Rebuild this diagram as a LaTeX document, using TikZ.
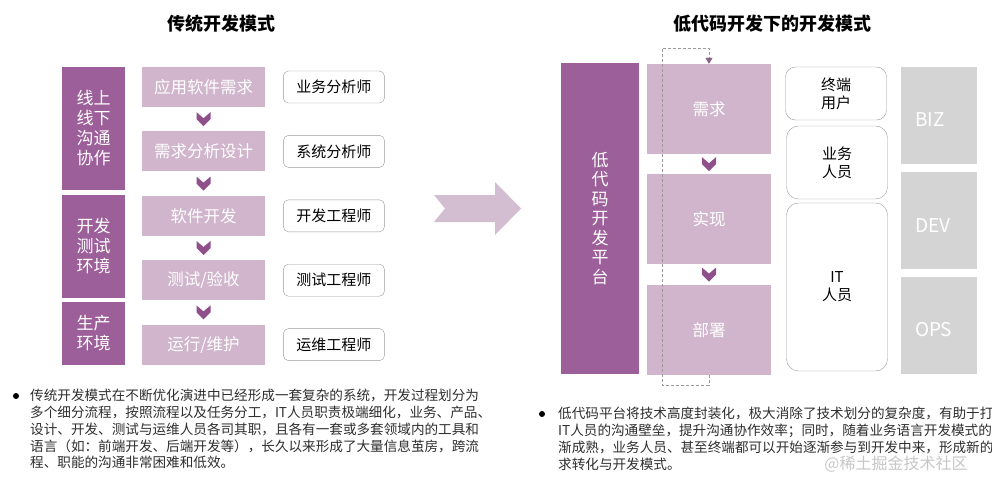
\documentclass[tikz,border=0pt]{standalone}
\usepackage{fontspec}
\setmainfont{Noto Sans CJK SC}
\usetikzlibrary{arrows.meta, positioning, calc}

\definecolor{darkmauve}{HTML}{9C5F9A}
\definecolor{lightmauve}{HTML}{D0B5CC}
\definecolor{arrowmauve}{HTML}{D3BED1}
\definecolor{chevcol}{HTML}{8E4F8B}
\definecolor{greybox}{HTML}{D4D4D4}
\definecolor{linegrey}{HTML}{9A9A9A}
\definecolor{txt}{HTML}{2E2E2E}

\begin{document}
\begin{tikzpicture}[
  x=1pt, y=-1pt,
  node distance=24pt,
  title/.style={font=\fontsize{18pt}{20pt}\selectfont\bfseries},
  band/.style={rectangle, fill=darkmauve, text=white, align=center, inner sep=0pt, font=\fontsize{17pt}{20pt}\selectfont},
  stage/.style={rectangle, fill=lightmauve, text=white, minimum width=123pt, minimum height=40pt, inner sep=0pt, font=\fontsize{16.5pt}{19pt}\selectfont},
  phase/.style={stage, minimum width=124pt, minimum height=90pt},
  role/.style={rectangle, rounded corners=5pt, draw=linegrey, fill=white, minimum width=101pt, minimum height=32pt, inner sep=0pt, font=\fontsize{15pt}{18pt}\selectfont},
  people/.style={rectangle, rounded corners=12pt, draw=linegrey, fill=white, minimum width=101pt, align=center, inner sep=0pt, font=\fontsize{15pt}{18pt}\selectfont},
  opsbox/.style={rectangle, fill=greybox, text=white, minimum height=97pt, inner xsep=14pt, text width=48pt, align=left, text height=23pt, text depth=0pt, font=\fontsize{19pt}{22pt}\selectfont},
  chev/.style={fill=chevcol},
  loopline/.style={draw=linegrey, thin, dash pattern=on 3pt off 2pt, -{Triangle[width=7pt, length=6pt, color=chevcol!60!gray]}},
  dot/.style={circle, fill=black, inner sep=0pt, minimum size=6pt},
  note/.style={anchor=north west, align=left, inner sep=0pt, text=txt, font=\fontsize{13.6pt}{16.8pt}\selectfont}
]
\useasboundingbox (0,0) rectangle (992,484);
\fill[white] (0,0) rectangle (992,484);

% traditional mode
\node[title] (trad) at (221,24) {传统开发模式};
\node[band, minimum width=63pt, minimum height=123pt] (online) at (93.5,128.5) {线上\\线下\\沟通\\协作};
\node[band, minimum width=63pt, minimum height=103pt] (devtest) at (93.5,246.5) {开发\\测试\\环境};
\node[band, minimum width=63pt, minimum height=63pt] (prodenv) at (93.5,333.5) {生产\\环境};

\node[stage] (apps) at (203.5,87) {应用软件需求};
\node[stage, below=of apps] (design) {需求分析设计};
\node[stage, below=of design] (coding) {软件开发};
\node[stage, below=of coding] (testing) {测试/验收};
\node[stage, below=of testing] (running) {运行/维护};

\node[role, right=18pt of apps] (ba) {业务分析师};
\node[role, right=18pt of design] (sa) {系统分析师};
\node[role, right=18pt of coding] (deveng) {开发工程师};
\node[role, right=18pt of testing] (testeng) {测试工程师};
\node[role, right=18pt of running] (opseng) {运维工程师};

% big arrow between the two
\fill[arrowmauve] (434,195) -- (495,195) -- (495,182) -- (521,208.5) -- (495,235) -- (495,222) -- (434,222) -- (445,208.5) -- cycle;

% low-code mode
\node[title] (lowcode) at (772,24) {低代码开发下的开发模式};
\node[band, minimum width=78pt, minimum height=311pt, font=\fontsize{17pt}{19.5pt}\selectfont] (platform) at (600,218.5) {低\\代\\码\\开\\发\\平\\台};

\node[phase] (need) at (709,109) {需求};
\node[phase, below=20pt of need] (impl) {实现};
\node[phase, below=20pt of impl] (deploy) {部署};

\node[people, minimum height=53pt, rounded corners=10pt] (enduser) at (836,93.5) {终端\\用户};
\node[people, minimum height=73pt] (bizuser) at (837,162.5) {业务\\人员};
\node[people, minimum height=168pt] (itstaff) at (837,287) {IT\\人员};

\node[opsbox] (biz) at (939,115.5) {BIZ};
\node[opsbox, below=8pt of biz] (devops) {DEV};
\node[opsbox, below=7pt of devops] (opsops) {OPS};

\foreach \a/\b in {apps/design, design/coding, coding/testing, testing/running, need/impl, impl/deploy}
  \fill[chev] ($(\a.south)!0.5!(\b.north)$) ++(-7,-7) -- ++(7,6) -- ++(7,-6) -- ++(0,7) -- ++(-7,7) -- ++(-7,-7) -- cycle;

\coordinate (loopb) at (662,385);
\coordinate (loopt) at (662,48);
\draw[loopline] (deploy.south) |- (loopb) -- (loopt) -| (need.north);

% notes
\node[dot] (dot1) at (16,396) {};
\node[note] (note1) at (30,389) {传统开发模式在不断优化演进中已经形成一套复杂的系统，开发过程划分为\\多个细分流程，按照流程以及任务分工，IT人员职责极端细化，业务、产品、\\设计、开发、测试与运维人员各司其职，且各有一套或多套领域内的工具和\\语言（如：前端开发、后端开发等），长久以来形成了大量信息茧房，跨流\\程、职能的沟通非常困难和低效。};
\node[dot] (dot2) at (542,414) {};
\node[note] (note2) at (558,407) {低代码平台将技术高度封装化，极大消除了技术划分的复杂度，有助于打\\IT人员的沟通壁垒，提升沟通协作效率；同时，随着业务语言开发模式的\\渐成熟，业务人员、甚至终端都可以开始逐渐参与到开发中来，形成新的\\求转化与开发模式。};

\node[text=black!22, font=\fontsize{16pt}{18pt}\selectfont] (mark) at (896,464) {@稀土掘金技术社区};

\end{tikzpicture}
\end{document}
